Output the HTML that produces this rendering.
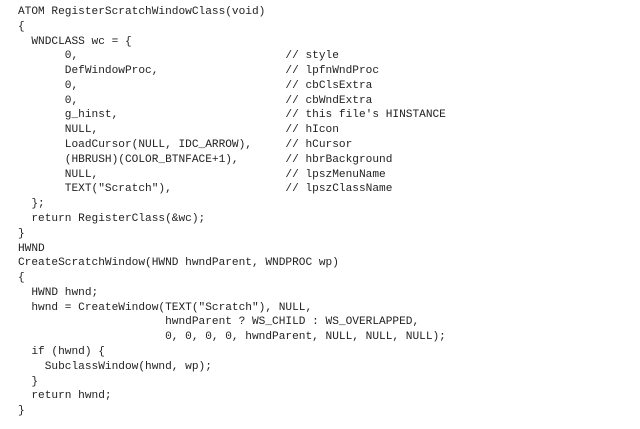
<!DOCTYPE html>
<html><head><meta charset="utf-8"><style>
html,body{margin:0;padding:0;background:#fff;width:640px;height:429px;overflow:hidden}
pre{position:absolute;left:18px;top:5px;margin:0;font-family:"Liberation Mono",monospace;font-size:11.15px;line-height:14.78px;color:#222}
</style></head><body><pre>ATOM RegisterScratchWindowClass(void)
{
  WNDCLASS wc = {
       0,                               // style
       DefWindowProc,                   // lpfnWndProc
       0,                               // cbClsExtra
       0,                               // cbWndExtra
       g_hinst,                         // this file's HINSTANCE
       NULL,                            // hIcon
       LoadCursor(NULL, IDC_ARROW),     // hCursor
       (HBRUSH)(COLOR_BTNFACE+1),       // hbrBackground
       NULL,                            // lpszMenuName
       TEXT("Scratch"),                 // lpszClassName
  };
  return RegisterClass(&amp;wc);
}
HWND
CreateScratchWindow(HWND hwndParent, WNDPROC wp)
{
  HWND hwnd;
  hwnd = CreateWindow(TEXT("Scratch"), NULL,
                      hwndParent ? WS_CHILD : WS_OVERLAPPED,
                      0, 0, 0, 0, hwndParent, NULL, NULL, NULL);
  if (hwnd) {
    SubclassWindow(hwnd, wp);
  }
  return hwnd;
}</pre></body></html>
